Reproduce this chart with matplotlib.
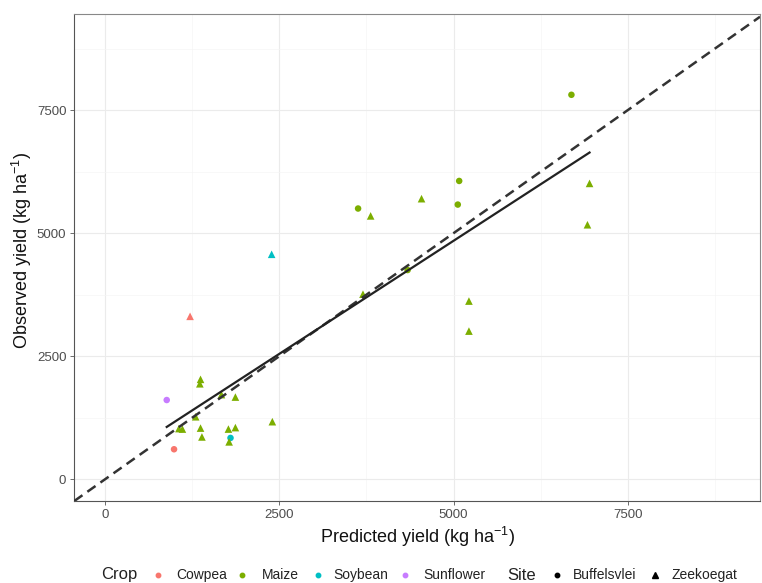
import matplotlib
matplotlib.use("Agg")
import matplotlib.pyplot as plt
from matplotlib.lines import Line2D
import numpy as np

plt.rcParams['font.family'] = ['Liberation Sans', 'DejaVu Sans']
plt.rcParams['mathtext.fontset'] = 'custom'
plt.rcParams['mathtext.rm'] = 'Liberation Sans'
plt.rcParams['mathtext.it'] = 'Liberation Sans:italic'

# ---------------- data ----------------
crops = ["Cowpea", "Maize", "Soybean", "Sunflower"]
crop_colors = ["#F8766D", "#7CAE00", "#00BFC4", "#C77CFF"]
sites = ["Buffelsvlei", "Zeekoegat"]
site_markers = ["o", "^"]

# Buffelsvlei (circles)
buf_crop = ["Cowpea", "Maize", "Maize", "Maize", "Maize", "Maize", "Soybean", "Sunflower"]
buf_pred = [990, 6690, 5080, 5060, 3630, 4340, 1800, 885]
buf_obs = [610, 7810, 6060, 5580, 5500, 4250, 840, 1610]

# Zeekoegat (triangles)
zee_crop = ["Cowpea", "Soybean"] + ["Maize"] * 20
zee_pred = [1220, 2390,
            3810, 4540, 6950, 6920, 5220, 5220, 2400, 3700,
            1370, 1360, 1670, 1870, 1300, 1060, 1110, 1370, 1390, 1770, 1870, 1780]
zee_obs = [3310, 4570,
           5350, 5700, 6010, 5170, 3620, 3010, 1170, 3760,
           2030, 1940, 1720, 1670, 1270, 1030, 1020, 1040, 860, 1020, 1050, 760]

# fitted regression line
fit_intercept = 250
fit_slope = 0.919

ticks = [0, 2500, 5000, 7500]
x_limits = [-445, 9395]
y_limits = [-441, 9451]

# ---------------- figure ----------------
W, H = 762, 583
fig = plt.figure(figsize=(W / 100, H / 100), dpi=100)
ax = fig.add_axes([74 / W, 1 - 501 / H, 686 / W, 487 / H])

ax.set_xlim(x_limits)
ax.set_ylim(y_limits)
ax.set_xticks(ticks)
ax.set_yticks(ticks)
minor = [t + 1250 for t in ticks]
ax.set_xticks(minor, minor=True)
ax.set_yticks(minor, minor=True)
ax.grid(which='major', color='#EBEBEB', lw=0.8)
ax.grid(which='minor', color='#F5F5F5', lw=0.5)
ax.tick_params(which='minor', length=0)
ax.tick_params(which='major', length=3, width=0.6, color='#555555',
               labelcolor='#4D4D4D', labelsize=9.5, pad=2.5)
ax.set_axisbelow(True)
for side, sp in ax.spines.items():
    sp.set_color('#888888' if side in ('top', 'right') else '#555555')
    sp.set_linewidth(0.8)

color_of = dict(zip(crops, crop_colors))

ax.scatter(buf_pred, buf_obs, c=[color_of[c] for c in buf_crop], marker='o',
           s=22, linewidths=0, zorder=3)
ax.scatter(zee_pred, zee_obs, c=[color_of[c] for c in zee_crop], marker='^',
           s=30, linewidths=0, zorder=3)

# 1:1 line
ax.axline((0, 0), slope=1, color='#333333', lw=1.8, ls=(0, (4, 2.4)), zorder=4)

# regression line over the range of predictions
all_pred = np.array(buf_pred + zee_pred)
xf = np.array([all_pred.min(), all_pred.max()])
ax.plot(xf, fit_intercept + fit_slope * xf, color='#222222', lw=1.6, zorder=4)

ax.set_xlabel("Predicted yield (kg ha$^{-1}$)", fontsize=13, color='#111111')
ax.set_ylabel("Observed yield (kg ha$^{-1}$)", fontsize=13, color='#111111')
ax.xaxis.set_label_coords(0.501, -0.049)
ax.yaxis.set_label_coords(-0.058, 0.515)

# ---------------- legend (drawn in figure pixel positions) ----------------
ly = 1 - 575 / H
def fx(px):
    return px / W

fig.text(fx(101), ly, "Crop", fontsize=12, va='center', ha='left', color='#222222')
crop_dot_x = [157.7, 241.7, 317.7, 405]
crop_txt_x = [176, 261.7, 333, 423]
for lab, col, dx, tx in zip(crops, crop_colors, crop_dot_x, crop_txt_x):
    fig.add_artist(Line2D([fx(dx)], [ly], ls='', marker='o', ms=3.2, color=col,
                          transform=fig.transFigure))
    fig.text(fx(tx), ly, lab, fontsize=10, va='center', ha='left', color='#222222')

fig.text(fx(507), ly, "Site", fontsize=12, va='center', ha='left', color='#222222')
site_dot_x = [556.7, 655]
site_txt_x = [573, 671.7]
site_ms = [3.2, 4.2]
for lab, mk, ms, dx, tx in zip(sites, site_markers, site_ms, site_dot_x, site_txt_x):
    fig.add_artist(Line2D([fx(dx)], [ly], ls='', marker=mk, ms=ms, color='black',
                          transform=fig.transFigure))
    fig.text(fx(tx), ly, lab, fontsize=10, va='center', ha='left', color='#222222')

fig.savefig("out.png", dpi=100)
